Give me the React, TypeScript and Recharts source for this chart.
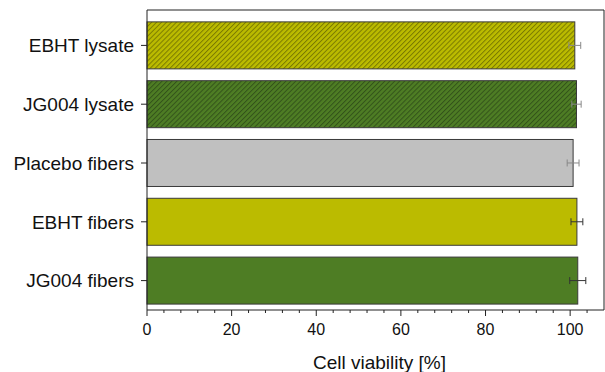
import { Bar, BarChart, XAxis, YAxis, Cell } from "recharts";

const categories = [
  "EBHT lysate",
  "JG004 lysate",
  "Placebo fibers",
  "EBHT fibers",
  "JG004 fibers",
];
const viability = [101.1, 101.5, 100.7, 101.6, 101.8];
const errors = [1.4, 1.1, 1.4, 1.4, 1.9];
const fills = [
  "url(#hatchYellow)",
  "url(#hatchGreen)",
  "#c0c0c0",
  "#bbbb00",
  "#4e7d24",
];
const errColors = ["#888", "#888", "#888", "#333", "#333"];
const xTicks = [0, 4, 8, 12, 16, 20, 24, 28, 32, 36, 40, 44, 48, 52, 56, 60, 64, 68, 72, 76, 80, 84, 88, 92, 96, 100, 104];

const data = categories.map((name, i) => ({
  name,
  value: viability[i],
  err: errors[i],
  idx: i,
}));

const font = "'Liberation Sans', Arial, sans-serif";

const BottomTick = (props: any) => {
  const { x, y, payload } = props;
  const major = payload.value % 20 === 0;
  return (
    <g>
      <line x1={x} x2={x} y1={y} y2={y + (major ? 6 : 3)} stroke="#222" strokeWidth={1} />
      {major && (
        <text x={x} y={y + 25} textAnchor="middle" fontSize={16} fontFamily={font} fill="#111">
          {payload.value}
        </text>
      )}
    </g>
  );
};

const TopTick = (props: any) => {
  const { x, y, payload } = props;
  const major = payload.value % 20 === 0;
  return <line x1={x} x2={x} y1={y} y2={y + (major ? 6 : 3)} stroke="#222" strokeWidth={1} />;
};

const BarWithError = (props: any) => {
  const { x, y, width, height, fill, payload } = props;
  const perUnit = width / payload.value;
  const cy = y + height / 2;
  const x1 = x + width - payload.err * perUnit;
  const x2 = x + width + payload.err * perUnit;
  const c = errColors[payload.idx];
  return (
    <g>
      <rect x={x} y={y} width={width} height={height} fill={fill} stroke="#3a3a3a" strokeWidth={1} />
      <line x1={x1} x2={x2} y1={cy} y2={cy} stroke={c} strokeWidth={1} />
      <line x1={x1} x2={x1} y1={cy - 3.5} y2={cy + 3.5} stroke={c} strokeWidth={1} />
      <line x1={x2} x2={x2} y1={cy - 3.5} y2={cy + 3.5} stroke={c} strokeWidth={1} />
    </g>
  );
};

export default function App() {
  return (
    <div style={{ position: "absolute", left: 0, top: 0 }}>
      <BarChart
        width={605}
        height={372}
        data={data}
        layout="vertical"
        margin={{ top: 9, right: 0, left: 0, bottom: 0 }}
        barCategoryGap="10%"
      >
        <defs>
          <pattern id="hatchYellow" width="3.5" height="6" patternUnits="userSpaceOnUse" patternTransform="rotate(45)">
            <rect width="3.5" height="6" fill="#bbbb00" />
            <line x1="0.5" y1="0" x2="0.5" y2="6" stroke="#7a7a00" strokeWidth="1" />
          </pattern>
          <pattern id="hatchGreen" width="3.5" height="6" patternUnits="userSpaceOnUse" patternTransform="rotate(45)">
            <rect width="3.5" height="6" fill="#4e7d24" />
            <line x1="0.5" y1="0" x2="0.5" y2="6" stroke="#33531a" strokeWidth="1" />
          </pattern>
        </defs>
        <XAxis
          type="number"
          domain={[0, 108]}
          ticks={xTicks}
          interval={0}
          height={62}
          tickSize={0}
          tickMargin={0}
          tickLine={false}
          stroke="#222"
          tick={<BottomTick />}
          label={{
            value: "Cell viability [%]",
            position: "insideBottom",
            offset: 3,
            dx: 4,
            fontSize: 19,
            fontFamily: font,
            fill: "#111",
          }}
        />
        <XAxis
          xAxisId="top"
          orientation="top"
          type="number"
          domain={[0, 108]}
          ticks={xTicks}
          interval={0}
          height={1}
          tickSize={0}
          tickMargin={0}
          tickLine={false}
          stroke="#222"
          tick={<TopTick />}
        />
        <YAxis
          type="category"
          dataKey="name"
          width={147}
          padding={{ top: 6, bottom: 0 }}
          tickSize={6}
          tickMargin={7}
          stroke="#222"
          tick={{ fontSize: 19, fontFamily: font, fill: "#111" }}
          interval={0}
        />
        <YAxis
          yAxisId="right"
          orientation="right"
          type="number"
          width={1}
          tick={false}
          tickLine={false}
          stroke="#222"
        />
        <Bar dataKey="value" isAnimationActive={false} shape={<BarWithError />}>
          {data.map((d, i) => (
            <Cell key={d.name} fill={fills[i]} />
          ))}
        </Bar>
      </BarChart>
    </div>
  );
}
